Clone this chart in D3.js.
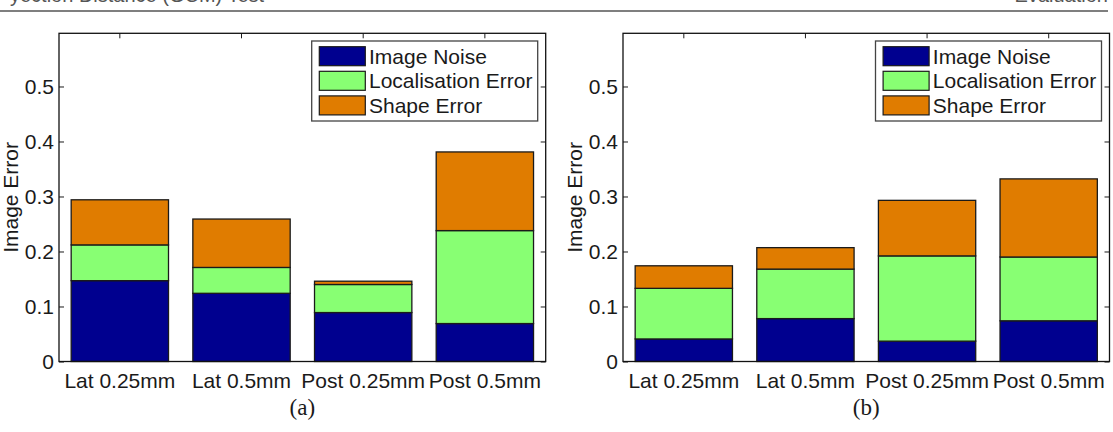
<!DOCTYPE html>
<html>
<head>
<meta charset="utf-8">
<script src="https://cdn.jsdelivr.net/npm/d3@7"></script>
<style>
  body { margin: 0; background: #fff; }
  svg { display: block; }
  text { font-family: "Liberation Sans", Arial, Helvetica, sans-serif; fill: #1a1a1a; }
</style>
</head>
<body>
<div class="visual-data"></div>
<script>
// categories and legend
const categories = ["Lat 0.25mm", "Lat 0.5mm", "Post 0.25mm", "Post 0.5mm"];
const seriesNames = ["Image Noise", "Localisation Error", "Shape Error"];
const yTicks = [0, 0.1, 0.2, 0.3, 0.4, 0.5];
const panelLabels = ["(a)", "(b)"];

// panel (a) segment values
const noiseA = [0.147, 0.124, 0.089, 0.069];
const locA = [0.065, 0.047, 0.051, 0.169];
const shapeA = [0.082, 0.088, 0.006, 0.143];

// panel (b) segment values
const noiseB = [0.041, 0.078, 0.037, 0.074];
const locB = [0.092, 0.090, 0.155, 0.116];
const shapeB = [0.041, 0.039, 0.101, 0.142];

const width = 1113;
const height = 432;
const colors = ["#00008f", "#88ff73", "#e07c00"];
const yMax = 0.5967;
const plotTop = 33.3;
const plotBottom = 361.5;
const fontSize = "21px";

var svg = d3.select(".visual-data")
            .append("svg")
            .attr("width", width)
            .attr("height", height)
            .style("background-color", "#FFFFFF");

//page header remnant (cut off at the top edge, as in the scan)
svg.append("line")
   .attr("x1", 0).attr("x2", 1108)
   .attr("y1", 11).attr("y2", 11)
   .attr("stroke", "#555")
   .attr("stroke-width", 1.5);
svg.append("text")
   .attr("x", 10).attr("y", 2)
   .style("font-size", "20px")
   .style("fill", "#555")
   .text("yection Distance (GCM) Test");
svg.append("text")
   .attr("x", 1108).attr("y", 2)
   .attr("text-anchor", "end")
   .style("font-size", "20px")
   .style("fill", "#555")
   .text("Evaluation");

function drawPanel(left, right, noise, loc, shape, label) {
  const rows = categories.map((c, i) => ({
    cat: c,
    [seriesNames[0]]: noise[i],
    [seriesNames[1]]: loc[i],
    [seriesNames[2]]: shape[i]
  }));
  const stacked = d3.stack().keys(seriesNames)(rows);

  const xScale = d3.scaleBand()
                   .domain(categories)
                   .range([left, right])
                   .paddingInner(0.2)
                   .paddingOuter(0.1);
  const yScale = d3.scaleLinear()
                   .domain([0, yMax])
                   .range([plotBottom, plotTop]);

  const g = svg.append("g");

  //axes with inward ticks
  const yAxis = d3.axisLeft(yScale)
                  .tickValues(yTicks)
                  .tickSize(-5)
                  .tickPadding(5)
                  .tickFormat(d => d === 0 ? "0" : d3.format(".1f")(d));
  g.append("g")
   .attr("transform", "translate(" + left + ",0)")
   .call(yAxis);
  g.append("g")
   .attr("transform", "translate(" + right + ",0)")
   .call(d3.axisRight(yScale).tickValues(yTicks).tickSize(-5).tickFormat(""));
  g.append("g")
   .attr("transform", "translate(0," + plotTop + ")")
   .call(d3.axisTop(xScale).tickSize(-5).tickFormat(""));
  g.append("g")
   .attr("transform", "translate(0," + plotBottom + ")")
   .call(d3.axisBottom(xScale).tickSize(-5).tickPadding(11.5));

  g.selectAll(".domain").remove();
  g.selectAll(".tick line").attr("stroke", "#1a1a1a");
  g.selectAll(".tick text")
   .style("font-size", fontSize)
   .style("font-family", "'Liberation Sans', Arial, sans-serif")
   .attr("fill", "#1a1a1a");

  //stacked bars
  g.selectAll(".layer")
   .data(stacked)
   .enter()
   .append("g")
   .attr("class", "layer")
   .attr("fill", (d, i) => colors[i])
   .selectAll("rect")
   .data(d => d)
   .enter()
   .append("rect")
   .attr("x", d => xScale(d.data.cat))
   .attr("y", d => yScale(d[1]))
   .attr("width", xScale.bandwidth())
   .attr("height", d => yScale(d[0]) - yScale(d[1]))
   .attr("stroke", "#1a1a1a")
   .attr("stroke-width", 1.3);

  //axis box
  g.append("rect")
   .attr("x", left)
   .attr("y", plotTop)
   .attr("width", right - left)
   .attr("height", plotBottom - plotTop)
   .attr("fill", "none")
   .attr("stroke", "#111")
   .attr("stroke-width", 1.3);

  //y title
  g.append("text")
   .attr("transform", "translate(" + (left - 41) + "," + ((plotTop + plotBottom) / 2) + ") rotate(-90)")
   .attr("text-anchor", "middle")
   .style("font-size", fontSize)
   .text("Image Error");

  //legend
  const legW = 226, legH = 80;
  const legX = right - 8 - legW;
  const legY = plotTop + 7.7;
  const leg = g.append("g").attr("transform", "translate(" + legX + "," + legY + ")");
  leg.append("rect")
     .attr("width", legW)
     .attr("height", legH)
     .attr("fill", "#fff")
     .attr("stroke", "#444")
     .attr("stroke-width", 1.3);
  seriesNames.forEach((name, i) => {
    leg.append("rect")
       .attr("x", 7.6)
       .attr("y", 5.7 + i * 24.6)
       .attr("width", 46)
       .attr("height", 19)
       .attr("fill", colors[i])
       .attr("stroke", "#1a1a1a")
       .attr("stroke-width", 1.2);
    leg.append("text")
       .attr("x", 57.3)
       .attr("y", 5.7 + i * 24.6 + 17)
       .style("font-size", fontSize)
       .text(name);
  });

  //panel label
  svg.append("text")
     .attr("x", (left + right) / 2)
     .attr("y", 415)
     .attr("text-anchor", "middle")
     .style("font-family", "'Liberation Serif', 'DejaVu Serif', serif")
     .style("font-size", "23px")
     .text(label);
}

drawPanel(59, 545.7, noiseA, locA, shapeA, panelLabels[0]);
drawPanel(623, 1109.5, noiseB, locB, shapeB, panelLabels[1]);
</script>
</body>
</html>
